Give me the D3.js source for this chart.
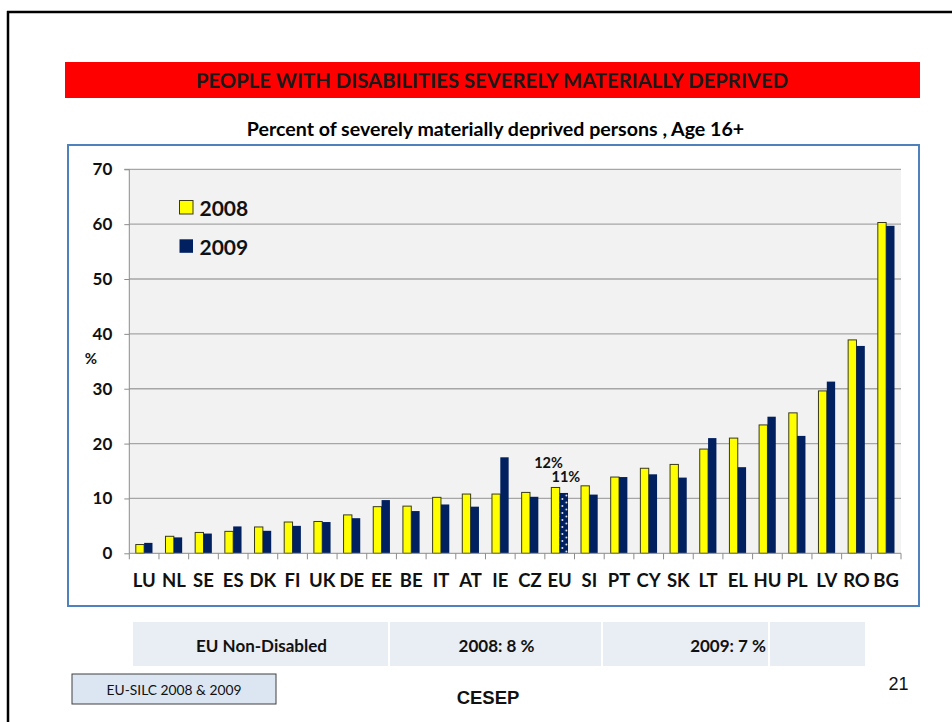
<!DOCTYPE html>
<html><head><meta charset="utf-8">
<script src="https://cdn.jsdelivr.net/npm/d3@7"></script>
<style>body{margin:0;background:#fff;overflow:hidden}</style>
</head><body><svg id="c" width="952" height="722"></svg>
<script>
const categories = ["LU","NL","SE","ES","DK","FI","UK","DE","EE","BE","IT","AT","IE","CZ","EU","SI","PT","CY","SK","LT","EL","HU","PL","LV","RO","BG"];
const values2008 = [1.6,3.1,3.8,4.0,4.8,5.7,5.8,7.0,8.5,8.6,10.2,10.8,10.8,11.1,12.0,12.3,13.9,15.5,16.2,19.0,21.0,23.4,25.6,29.6,38.9,60.3];
const values2009 = [1.9,2.9,3.6,4.9,4.1,5.0,5.7,6.4,9.7,7.7,8.9,8.5,17.5,10.3,11.0,10.7,13.9,14.4,13.8,21.0,15.7,24.9,21.4,31.3,37.8,59.7];
const seriesNames = ["2008","2009"];
const yTicks = [0,10,20,30,40,50,60,70];
const highlightCategory = "EU";
const highlightLabels = ["12%","11%"];
const bannerTitle = "PEOPLE WITH DISABILITIES SEVERELY MATERIALLY DEPRIVED";
const subTitle = "Percent of severely materially deprived persons , Age 16+";
const yAxisLabel = "%";
const tableCells = ["EU Non-Disabled","2008: 8 %","2009: 7 %",""];
const sourceNote = "EU-SILC 2008 & 2009";
const footerText = "CESEP";
const pageNumber = "21";

const colors = {"2008":"#ffff00","2009":"#002060"};
const svg = d3.select("#c");
const F = "Lato, 'Open Sans', sans-serif";
const A = "'Liberation Sans', Arial, sans-serif";

// pattern for EU 2009 bar
const defs = svg.append("defs");
const pat = defs.append("pattern").attr("id","dots").attr("patternUnits","userSpaceOnUse")
  .attr("width",8).attr("height",7).attr("x",0).attr("y",0);
pat.append("rect").attr("width",8).attr("height",7).attr("fill",colors["2009"]);
pat.append("circle").attr("cx",1.5).attr("cy",2).attr("r",0.9).attr("fill","#fff");
pat.append("circle").attr("cx",5.5).attr("cy",5.5).attr("r",0.9).attr("fill","#fff");

// slide frame
svg.append("line").attr("x1",7).attr("x2",952).attr("y1",12).attr("y2",12).attr("stroke","#000").attr("stroke-width",2.5);
svg.append("line").attr("x1",8).attr("x2",8).attr("y1",11).attr("y2",722).attr("stroke","#000").attr("stroke-width",2.5);

// banner
svg.append("rect").attr("x",65).attr("y",62).attr("width",855).attr("height",36).attr("fill","#ff0000");
svg.append("text").attr("x",492).attr("y",80).attr("text-anchor","middle").attr("dominant-baseline","central")
  .attr("font-family",F).attr("font-weight","bold").attr("font-size",20.3).attr("fill","#1a1a1a").text(bannerTitle);

svg.append("text").attr("x",495.5).attr("y",128).attr("text-anchor","middle").attr("dominant-baseline","central")
  .attr("font-family",F).attr("font-weight","bold").attr("font-size",19.6).attr("fill","#000").text(subTitle);

// chart box
svg.append("rect").attr("x",68).attr("y",145).attr("width",851).attr("height",461)
  .attr("fill","#fff").attr("stroke","#4f81bd").attr("stroke-width",2);

const x = d3.scaleBand().domain(categories).range([129.3,901]).paddingInner(0).paddingOuter(0);
const x1 = d3.scaleBand().domain(seriesNames).range([0,x.bandwidth()]).paddingInner(0).paddingOuter(0.78);
const y = d3.scaleLinear().domain([0,70]).range([553.3,169.3]);

// plot area
svg.append("rect").attr("x",x.range()[0]).attr("y",y(70)).attr("width",x.range()[1]-x.range()[0])
  .attr("height",y(0)-y(70)).attr("fill","#f2f2f2");

// grid
svg.append("g").selectAll("line").data(yTicks.filter(d=>d>0)).join("line")
  .attr("x1",x.range()[0]).attr("x2",x.range()[1]).attr("y1",d=>y(d)).attr("y2",d=>y(d))
  .attr("stroke","#a6a6a6").attr("stroke-width",1.3);

// y axis
const ya = svg.append("g").attr("transform",`translate(${x.range()[0]},0)`)
  .call(d3.axisLeft(y).tickValues(yTicks).tickSize(5).tickPadding(12));
ya.select(".domain").attr("stroke","#8c8c8c").attr("d",`M-5,${y(70)}H0V${y(0)}`);
ya.selectAll(".tick line").attr("stroke","#8c8c8c");
ya.selectAll(".tick text").attr("font-family",F).attr("font-weight","bold").attr("font-size",17).attr("fill","#111");

// bars
const data = categories.map((c,i)=>({c, vals:[{s:"2008",v:values2008[i]},{s:"2009",v:values2009[i]}]}));
const grp = svg.append("g").selectAll("g").data(data).join("g").attr("transform",d=>`translate(${x(d.c)},0)`);
grp.selectAll("rect").data(d=>d.vals.map(o=>({...o,c:d.c}))).join("rect")
  .attr("x",d=>x1(d.s)).attr("width",x1.bandwidth())
  .attr("y",d=>y(d.v)).attr("height",d=>y(0)-y(d.v))
  .attr("fill",d=>(d.c===highlightCategory && d.s==="2009")?"url(#dots)":colors[d.s])
  .attr("stroke",d=>d.s==="2008"?"#3a3a1a":"none").attr("stroke-width",d=>d.s==="2008"?1:0);

// x axis
const xa = svg.append("g").attr("transform",`translate(0,${y(0)})`).call(d3.axisBottom(x).tickSize(0).tickPadding(21));
xa.select(".domain").attr("stroke","#8c8c8c").attr("d",`M${x.range()[0]},0H${x.range()[1]}`);
xa.selectAll(".tick text").attr("font-family",F).attr("font-weight","bold").attr("font-size",18.5).attr("fill","#111").attr("dy","0.71em");
svg.append("g").selectAll("line").data(categories.concat(["end"])).join("line")
  .attr("x1",(d,i)=>x.range()[0]+i*x.step()).attr("x2",(d,i)=>x.range()[0]+i*x.step())
  .attr("y1",y(0)).attr("y2",y(0)+6).attr("stroke","#8c8c8c");

// EU labels
const ei = categories.indexOf(highlightCategory);
svg.append("g").selectAll("text").data(highlightLabels).join("text")
  .attr("x",(d,i)=>x(highlightCategory)+x1(seriesNames[i])+x1.bandwidth()/2 + (i===0?-7:2))
  .attr("y",(d,i)=>y([values2008[ei],values2009[ei]][i]) - (i===0?25:16))
  .attr("text-anchor","middle").attr("dominant-baseline","central")
  .attr("font-family",F).attr("font-weight","bold").attr("font-size",14.5).attr("fill","#111").text(d=>d);

// legend
const lg = svg.append("g").selectAll("g").data(seriesNames).join("g")
  .attr("transform",(d,i)=>`translate(179.5,${200.5+i*38.8})`);
lg.append("rect").attr("width",13.5).attr("height",13.5).attr("fill",d=>colors[d])
  .attr("stroke",d=>d==="2008"?"#3a3a1a":"none");
lg.append("text").attr("x",20).attr("y",7).attr("dominant-baseline","central")
  .attr("font-family",F).attr("font-weight","bold").attr("font-size",21).attr("fill","#111").text(d=>d);

// y label
svg.append("text").attr("x",91).attr("y",358).attr("text-anchor","middle").attr("dominant-baseline","central")
  .attr("font-family",F).attr("font-weight","bold").attr("font-size",15).attr("fill","#111").text(yAxisLabel);

// table
const cellX = [133,390,603,770,865];
const tg = svg.append("g").selectAll("g").data(tableCells).join("g");
tg.append("rect").attr("x",(d,i)=>cellX[i]).attr("y",622).attr("width",(d,i)=>cellX[i+1]-cellX[i]-(i<3?2:0)).attr("height",44).attr("fill","#e9edf4");
tg.append("text").attr("x",(d,i)=>i===2?766:(cellX[i]+cellX[i+1])/2).attr("y",645)
  .attr("text-anchor",(d,i)=>i===2?"end":"middle").attr("dominant-baseline","central")
  .attr("font-family",F).attr("font-weight","bold").attr("font-size",17).attr("fill","#111").text(d=>d);

// source box
svg.append("rect").attr("x",72).attr("y",674).attr("width",204).attr("height",30).attr("fill","#dce6f2").attr("stroke","#404040").attr("stroke-width",1);
svg.append("text").attr("x",174).attr("y",689).attr("text-anchor","middle").attr("dominant-baseline","central")
  .attr("font-family",F).attr("font-size",13.8).attr("fill","#111").text(sourceNote);

svg.append("text").attr("x",488).attr("y",697).attr("text-anchor","middle").attr("dominant-baseline","central")
  .attr("font-family",A).attr("font-weight","bold").attr("font-size",18.5).attr("fill","#111").text(footerText);
svg.append("text").attr("x",898.5).attr("y",684).attr("text-anchor","middle").attr("dominant-baseline","central")
  .attr("font-family",A).attr("font-size",18).attr("fill","#111").text(pageNumber);
</script></body></html>
